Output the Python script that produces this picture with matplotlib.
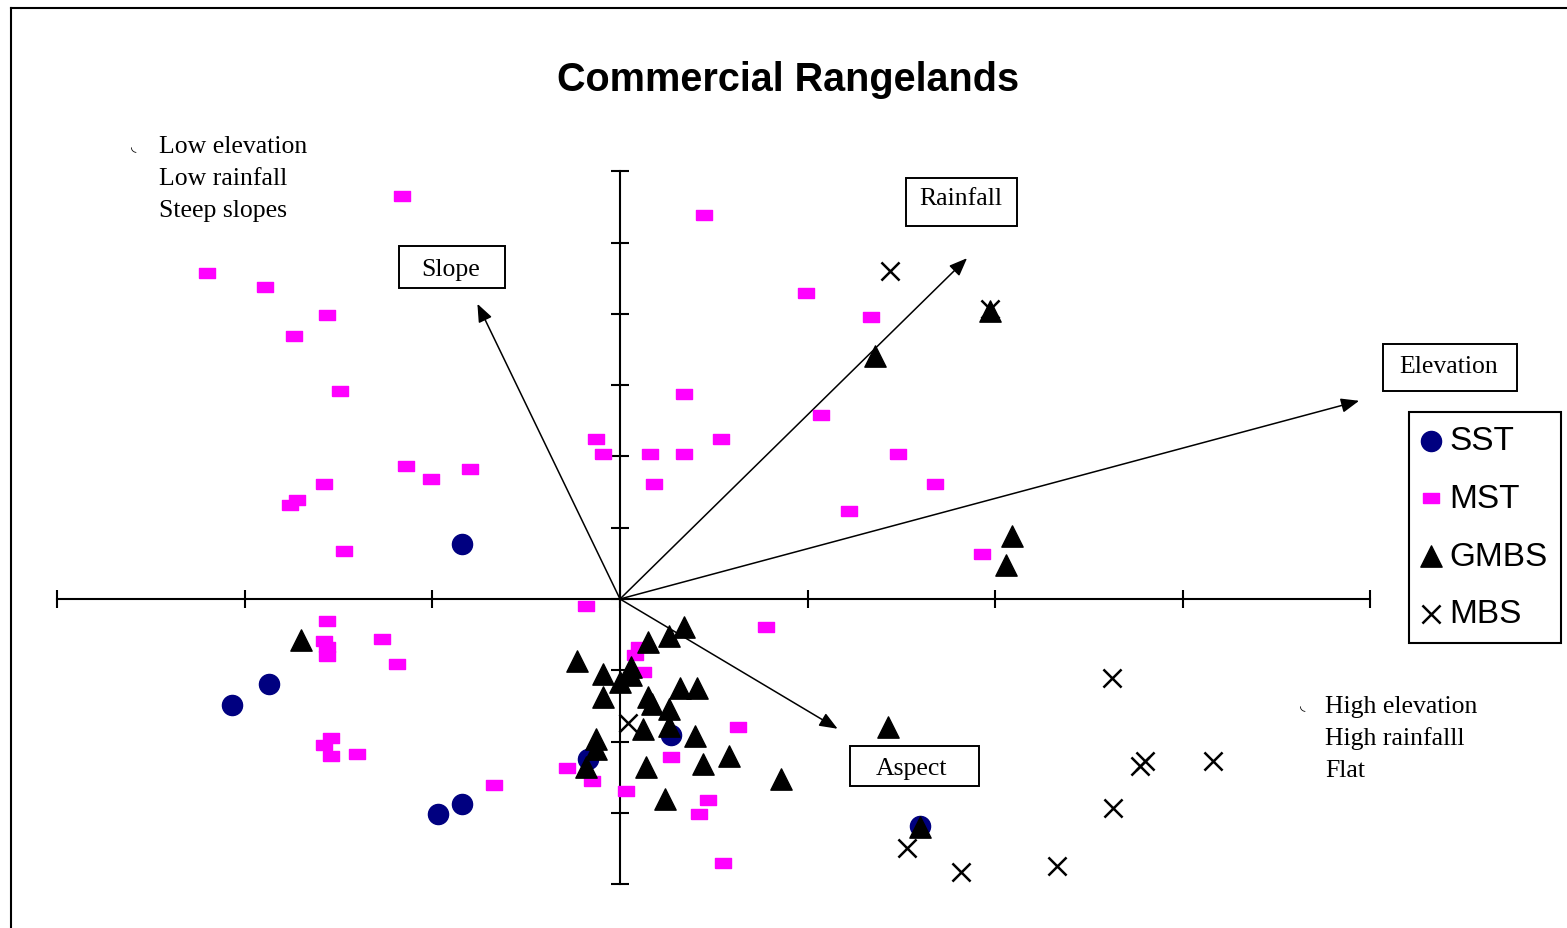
import matplotlib
matplotlib.use("Agg")
import matplotlib.pyplot as plt
from matplotlib.lines import Line2D
from matplotlib.patches import Rectangle

# ordination scores (axis units = one tick)
sst_x = [-0.84, -1.87, -2.07, -0.84, -0.97, 0.27, -0.17, 1.60]
sst_y = [0.77, -1.19, -1.49, -2.88, -3.02, -1.91, -2.24, -3.18]

mst_x = [-1.16, -2.20, -1.89, -1.56, -1.74, -1.49, -1.14, -1.01, -0.80, -1.58,
         -1.72, -1.76, -1.47, 0.45, 0.99, 1.34, 0.34, 1.07, -0.13, 0.54,
         -0.09, 0.16, 0.34, 1.48, 0.18, 1.68, 1.22, 1.93, -1.56, -1.58,
         -1.56, -1.56, -1.27, -1.19, -1.54, -1.58, -1.54, -1.40, -0.67, -0.18,
         0.10, 0.08, 0.12, 0.63, 0.27, -0.28, -0.15, 0.03, 0.47, 0.42,
         0.78, 0.55]
mst_y = [5.65, 4.57, 4.38, 3.98, 3.69, 2.92, 1.87, 1.68, 1.82, 1.61,
         1.39, 1.32, 0.67, 5.39, 4.29, 3.96, 2.88, 2.58, 2.24, 2.24,
         2.03, 2.03, 2.03, 2.03, 1.61, 1.61, 1.23, 0.63, -0.31, -0.59,
         -0.67, -0.80, -0.56, -0.91, -1.95, -2.05, -2.20, -2.17, -2.61, -0.10,
         -0.67, -0.79, -1.02, -1.80, -2.22, -2.37, -2.55, -2.69, -2.82, -3.02,
         -0.39, -3.70]

gmbs_x = [0.34, 0.26, 0.15, -0.23, -0.09, 0.06, 0.06, 0.00, -0.09, 0.15,
          0.32, 0.41, 0.17, 0.26, 0.26, 0.12, 0.40, -0.13, -0.13, -0.18,
          0.14, 0.44, 0.58, 0.24, 0.86, 1.43, 1.60, 1.36, 1.97, 2.09,
          2.06, -1.70]
gmbs_y = [-0.39, -0.52, -0.60, -0.87, -1.05, -0.95, -1.07, -1.16, -1.37, -1.37,
          -1.25, -1.25, -1.47, -1.54, -1.78, -1.82, -1.92, -1.96, -2.10, -2.36,
          -2.36, -2.31, -2.20, -2.81, -2.52, -1.80, -3.20, 3.41, 4.04, 0.88,
          0.48, -0.58]

mbs_x = [1.44, 1.97, 2.62, 2.80, 2.77, 3.16, 2.63, 1.53, 1.82, 2.33, 0.04]
mbs_y = [4.60, 4.07, -1.11, -2.27, -2.34, -2.27, -2.93, -3.49, -3.83, -3.74, -1.74]

# environmental vectors
env_names = ["Slope", "Rainfall", "Elevation", "Aspect"]
env_x = [-0.76, 1.85, 3.94, 1.16]
env_y = [4.14, 4.78, 2.78, -1.82]

W, H = 1567, 929
X0, Y0, SX, SY = 620, 600, 187.6, 71.3   # origin pixel and pixels per tick


def fx(px):
    return px / W


def fy(py):
    return 1 - py / H


fig = plt.figure(figsize=(W / 100, H / 100), dpi=100)
ax = fig.add_axes([0, 0, 1, 1])
ax.set_xlim(-X0 / SX, (W - X0) / SX)
ax.set_ylim((Y0 - H) / SY, Y0 / SY)
ax.patch.set_alpha(0)

for s in ["top", "right"]:
    ax.spines[s].set_visible(False)
ax.spines["left"].set_position(("data", 0))
ax.spines["bottom"].set_position(("data", 0))
ax.spines["left"].set_bounds(-4, 6)
ax.spines["bottom"].set_bounds(-3, 4)
for s in ["left", "bottom"]:
    ax.spines[s].set_linewidth(1.5)
ax.set_xticks(range(-3, 5))
ax.set_yticks(range(-4, 7))
ax.tick_params(direction="inout", length=13.5, width=1.5, labelleft=False, labelbottom=False)

# arrows for environmental variables
for vx, vy in zip(env_x, env_y):
    ax.annotate("", xy=(vx, vy), xytext=(0, 0),
                arrowprops=dict(arrowstyle="-|>,head_length=0.5,head_width=0.2",
                                mutation_scale=22, lw=1.1, color="black",
                                shrinkA=0, shrinkB=0))

rect = [(-1, -0.6), (1, -0.6), (1, 0.6), (-1, 0.6), (-1, -0.6)]
h1 = ax.scatter(sst_x, sst_y, s=210, marker="o", color="#000080", zorder=3, label="SST")
h2 = ax.scatter(mst_x, mst_y, s=120, marker=rect, color="#FF00FF", edgecolors="#FF00FF",
                linewidths=1, zorder=3, label="MST")
h3 = ax.scatter(gmbs_x, gmbs_y, s=235, marker="^", color="black", zorder=4, label="GMBS")
h4 = ax.scatter(mbs_x, mbs_y, s=170, marker="x", color="black", linewidths=1.8, zorder=4, label="MBS")

leg = ax.legend(handles=[h1, h2, h3, h4], loc="upper left",
                bbox_to_anchor=(fx(1409), fy(413)), borderaxespad=0,
                prop={"family": "Liberation Sans", "size": 24},
                handlelength=0.5, handletextpad=0.3, borderpad=0.4,
                labelspacing=0.8, scatterpoints=1, fancybox=False,
                framealpha=1, edgecolor="black")
leg.get_frame().set_linewidth(1.5)

fig.text(fx(788), fy(80), "Commercial Rangelands", ha="center", va="center",
         family="Liberation Sans", weight="bold", fontsize=28.5)

# label boxes of the vectors
boxes = {"Slope": (399, 247, 505, 289, 451, 276),
         "Rainfall": (906, 179, 1017, 227, 961, 205),
         "Elevation": (1383, 345, 1517, 392, 1449, 373),
         "Aspect": (850, 747, 979, 787, 912, 775)}
for name in env_names:
    x0, y0, x1, y1, tx, ty = boxes[name]
    fig.add_artist(Rectangle((fx(x0), fy(y1)), fx(x1 - x0), (y1 - y0) / H,
                             transform=fig.transFigure, fill=False, lw=1.4, ec="black"))
    fig.text(fx(tx), fy(ty), name, ha="center", va="baseline",
             family="Liberation Serif", fontsize=18.5)

# descriptive notes
for line, base in zip(["Low elevation", "Low rainfall", "Steep slopes"], [153, 185, 217]):
    fig.text(fx(159), fy(base), line, ha="left", va="baseline",
             family="Liberation Serif", fontsize=18.5)
for line, base in zip(["High elevation", "High rainfalll", "Flat"], [713, 745, 777]):
    fig.text(fx(1325), fy(base), line, ha="left", va="baseline",
             family="Liberation Serif", fontsize=18.5)
fig.text(fx(134), fy(147), "\u25DF", ha="center", va="center", fontsize=10, family="DejaVu Sans")
fig.text(fx(1303), fy(706), "\u25DF", ha="center", va="center", fontsize=10, family="DejaVu Sans")

# outer frame (right and bottom edges fall outside the picture)
fig.add_artist(Line2D([fx(11), fx(11)], [0, fy(9)], transform=fig.transFigure, color="black", lw=1.5))
fig.add_artist(Line2D([fx(11), 1], [fy(9), fy(9)], transform=fig.transFigure, color="black", lw=1.5))

fig.savefig("out.png", dpi=100)
